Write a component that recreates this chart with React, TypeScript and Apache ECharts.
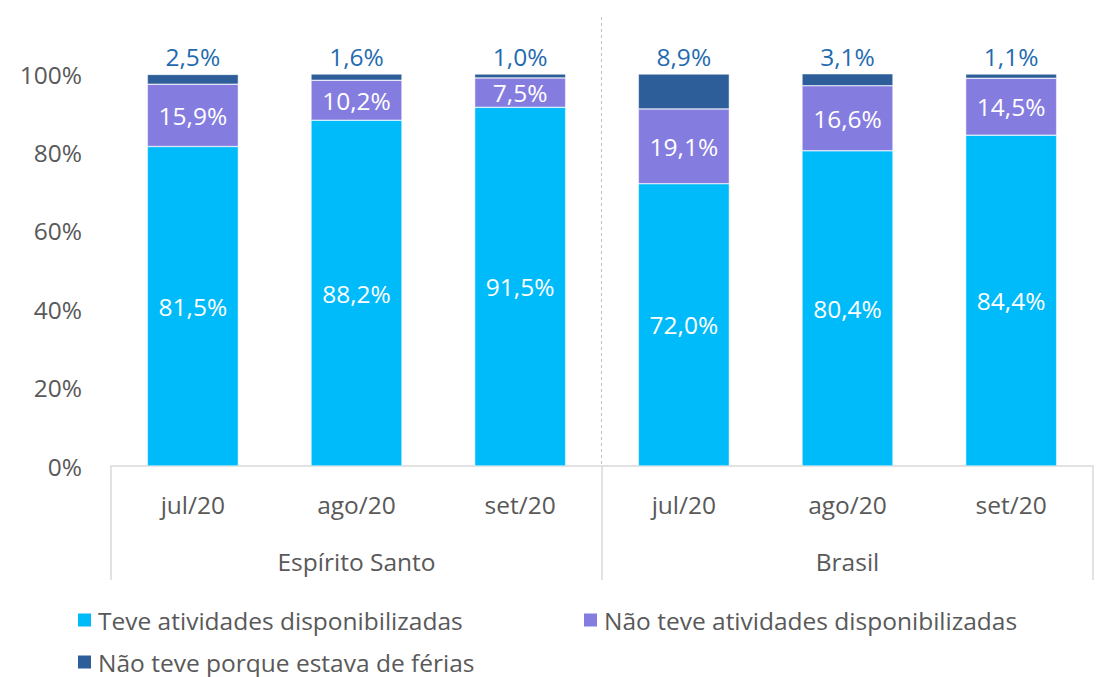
import React, { useEffect, useRef } from "react";
import * as echarts from "echarts";

const categories = ["jul/20", "ago/20", "set/20", "jul/20", "ago/20", "set/20"];
const groups = ["Espírito Santo", "Brasil"];
const teve = [81.5, 88.2, 91.5, 72.0, 80.4, 84.4];
const naoTeve = [15.9, 10.2, 7.5, 19.1, 16.6, 14.5];
const ferias = [2.5, 1.6, 1.0, 8.9, 3.1, 1.1];
const seriesNames = [
  "Teve atividades disponibilizadas",
  "Não teve atividades disponibilizadas",
  "Não teve porque estava de férias",
];
const yTicks = [0, 20, 40, 60, 80, 100];

const FONT = "'Open Sans', 'Noto Sans', sans-serif";
const GRAY = "#595959";
const fmt = (p: any) => Number(p.value).toFixed(1).replace(".", ",") + "%";

export default function App() {
  const ref = useRef<HTMLDivElement>(null);
  useEffect(() => {
    if (!ref.current) return;
    const chart = echarts.init(ref.current, undefined, { renderer: "svg" });
    const fs = 24.5;
    const legendCommon = {
      orient: "horizontal",
      padding: 0,
      itemWidth: 15,
      itemHeight: 15,
      icon: "rect",
      textStyle: { fontFamily: FONT, fontSize: 24.5, color: GRAY, padding: [0, 0, 0, 1], lineHeight: 26 },
      selectedMode: false,
    };
    chart.setOption({
      animation: false,
      textStyle: { fontFamily: FONT },
      grid: { left: 111, right: 9, top: 74, bottom: 211 },
      legend: [
        { ...legendCommon, data: [seriesNames[0]], left: 76, top: 607 },
        { ...legendCommon, data: [seriesNames[1]], left: 582, top: 607 },
        { ...legendCommon, data: [seriesNames[2]], left: 76, top: 649 },
      ],
      xAxis: [
        {
          type: "category",
          data: categories,
          position: "bottom",
          axisLine: { show: true, lineStyle: { color: "#D9D9D9", width: 1.5 } },
          axisTick: { show: false },
          axisLabel: { color: GRAY, fontSize: fs, margin: 26, fontFamily: FONT },
        },
        {
          type: "category",
          data: groups,
          position: "bottom",
          axisLine: { show: false },
          axisTick: { show: true, length: 114, lineStyle: { color: "#D9D9D9", width: 1.5 } },
          axisLabel: { color: GRAY, fontSize: fs, margin: 83, fontFamily: FONT },
        },
      ],
      yAxis: {
        type: "value",
        min: yTicks[0],
        max: yTicks[yTicks.length - 1],
        interval: 20,
        axisLine: { show: false },
        axisTick: { show: false },
        splitLine: { show: false },
        axisLabel: { color: GRAY, fontSize: fs, margin: 29, formatter: "{value}%", fontFamily: FONT },
      },
      graphic: [
        {
          type: "line",
          shape: { x1: 601.5, y1: 17, x2: 601.5, y2: 466 },
          style: { stroke: "#BFBFBF", lineWidth: 1, lineDash: [3, 3] },
          silent: true,
        },
      ],
      series: [
        {
          name: seriesNames[0],
          type: "bar",
          stack: "total",
          data: teve,
          barWidth: "55.6%",
          itemStyle: { color: "#00BBF9", borderColor: "#FFFFFF", borderWidth: 0.5 },
          label: { show: true, position: "inside", color: "#FFFFFF", fontSize: fs, formatter: fmt, fontFamily: FONT },
        },
        {
          name: seriesNames[1],
          type: "bar",
          stack: "total",
          data: naoTeve,
          itemStyle: { color: "#857CE0", borderColor: "#FFFFFF", borderWidth: 0.5 },
          label: { show: true, position: "inside", color: "#FFFFFF", fontSize: fs, formatter: fmt, fontFamily: FONT },
        },
        {
          name: seriesNames[2],
          type: "bar",
          stack: "total",
          data: ferias,
          itemStyle: { color: "#2E5E99", borderColor: "#FFFFFF", borderWidth: 0.5 },
          label: { show: true, position: "top", distance: 5, color: "#1F6BB0", fontSize: fs, formatter: fmt, fontFamily: FONT },
        },
      ],
    });
    return () => chart.dispose();
  }, []);
  return (
    <div
      ref={ref}
      style={{ position: "fixed", left: 0, top: 0, width: 1102, height: 677, background: "#FFFFFF" }}
    />
  );
}
